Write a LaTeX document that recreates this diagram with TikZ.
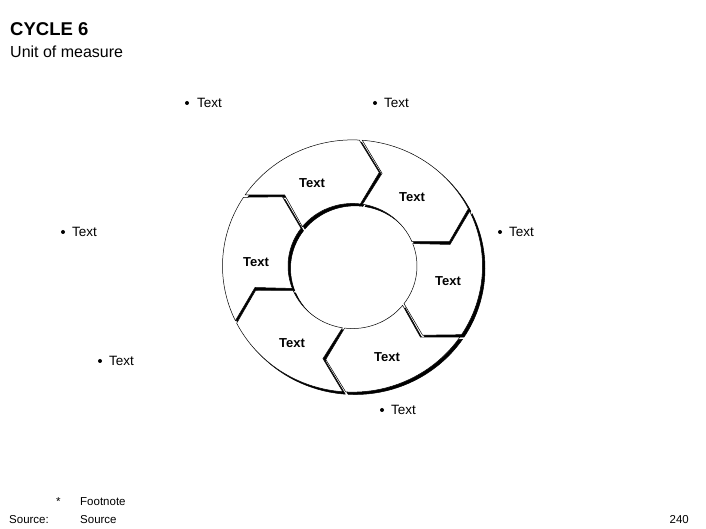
\documentclass[tikz,border=0pt]{standalone}
\usepackage{fontspec}
\setmainfont{Liberation Sans}
\begin{document}
\begin{tikzpicture}[x=1pt,y=1pt,
  seg/.style={fill=white,draw=black,line width=0.5pt,line join=miter},
  segshadow/.style={fill=black,draw=black,line width=0.5pt},
  segtext/.style={font=\fontsize{13}{15}\selectfont\bfseries,inner sep=0pt},
  lbl/.style={font=\fontsize{13.5}{16}\selectfont,anchor=base west,inner sep=0pt},
  bul/.style={circle,fill=black,inner sep=0pt,minimum size=4pt},
  smalltext/.style={font=\fontsize{11.5}{13}\selectfont,inner sep=0pt,anchor=base west}]
\useasboundingbox (0,0) rectangle (706,529);

% title
\node[font=\fontsize{18.5}{21}\selectfont\bfseries,anchor=base west,inner sep=0pt] (title) at (10,493) {CYCLE 6};
\node[font=\fontsize{16}{19}\selectfont,anchor=base west,inner sep=0pt] (unit) at (10,471.5) {Unit of measure};

% ring
\begin{scope}[shift={(352.5,263)},yscale=0.97]
  \foreach \a in {83,23,-37,-97,-157,-217}{
    \path[segshadow,shift={(2.5,-2.5)}] ({\a+2.7}:130pt) arc[start angle=\a+2.7,end angle=\a-56,radius=130pt]
      -- ({\a-68.5}:100pt) -- ({\a-60}:64.5pt)
      arc[start angle=\a-60,end angle=\a-2,radius=64.5pt]
      -- ({\a-10.2}:100pt) -- cycle;
  }
  \foreach \a in {83,23,-37,-97,-157,-217}{
    \path[seg] ({\a+2.7}:130pt) arc[start angle=\a+2.7,end angle=\a-56,radius=130pt]
      -- ({\a-68.5}:100pt) -- ({\a-60}:64.5pt)
      arc[start angle=\a-60,end angle=\a-2,radius=64.5pt]
      -- ({\a-10.2}:100pt) -- cycle;
  }
\end{scope}

% segment texts
\node[segtext] (s1) at (312,346) {Text};
\node[segtext] (s2) at (412,332) {Text};
\node[segtext] (s3) at (448,248) {Text};
\node[segtext] (s4) at (387,172) {Text};
\node[segtext] (s5) at (292,186) {Text};
\node[segtext] (s6) at (256,267) {Text};

% outer labels
\node[bul] (b1) at (187,426) {};
\node[lbl] (l1) at (197,421) {Text};
\node[bul] (b2) at (375,426) {};
\node[lbl] (l2) at (384,421) {Text};
\node[bul] (b3) at (63,297) {};
\node[lbl] (l3) at (72,292) {Text};
\node[bul] (b4) at (500,297) {};
\node[lbl] (l4) at (509,292) {Text};
\node[bul] (b5) at (100,168) {};
\node[lbl] (l5) at (109,163) {Text};
\node[bul] (b6) at (382,119) {};
\node[lbl] (l6) at (391,114) {Text};

% footer
\node[smalltext] (star) at (56,23) {*};
\node[smalltext] (fn) at (80,23) {Footnote};
\node[smalltext] (src) at (9,5) {Source:};
\node[smalltext] (srcv) at (80,5) {Source};
\node[smalltext,anchor=base east] (pg) at (689,5) {240};
\end{tikzpicture}
\end{document}
